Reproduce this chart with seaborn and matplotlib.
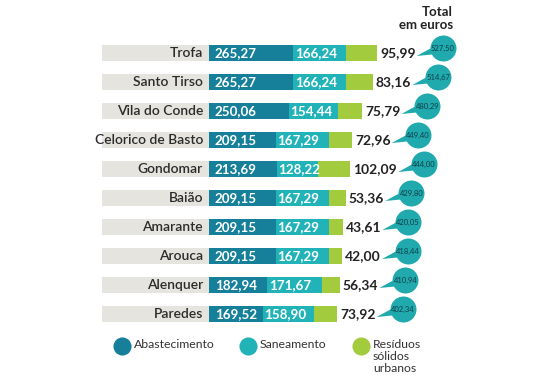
import numpy as np
import pandas as pd
import matplotlib
matplotlib.use("Agg")
import matplotlib.pyplot as plt
import seaborn as sns

# data
municipios = ["Trofa", "Santo Tirso", "Vila do Conde", "Celorico de Basto", "Gondomar",
              "Baião", "Amarante", "Arouca", "Alenquer", "Paredes"]
abastecimento = [265.27, 265.27, 250.06, 209.15, 213.69, 209.15, 209.15, 209.15, 182.94, 169.52]
saneamento = [166.24, 166.24, 154.44, 167.29, 128.22, 167.29, 167.29, 167.29, 171.67, 158.90]
residuos = [95.99, 83.16, 75.79, 72.96, 102.09, 53.36, 43.61, 42.00, 56.34, 73.92]
totais = [527.50, 514.67, 480.29, 449.40, 444.00, 429.80, 420.05, 418.44, 410.94, 402.34]
legenda = ["Abastecimento", "Saneamento", "Resíduos\nsólidos\nurbanos"]

C_ABAST = "#16809a"
C_SAN = "#22b3b9"
C_RES = "#a2cb3e"
C_GRAY = "#e6e4de"
C_BUBBLE = "#20aaad"

sns.set_theme(style="white")
plt.rcParams['font.family'] = ['Lato', 'DejaVu Sans']

df = pd.DataFrame({"municipio": municipios, "abast": abastecimento, "san": saneamento,
                   "res": residuos, "total": totais})
df["abast_san"] = df["abast"] + df["san"]

W, H = 558, 384
fig = plt.figure(figsize=(W / 100, H / 100), dpi=100)
ax = fig.add_axes([0, 0, 1, 1])

# pixel layout: x=0 at px 209, 0.3185 px per euro; rows at 53 + 29*i
X0, SX = 209, 0.3185
Y0, SY = 53, 29

def fmt(v):
    return f"{v:.2f}".replace(".", ",")

# stacked bars: draw cumulative totals back to front
for col, c in [("total", C_RES), ("abast_san", C_SAN), ("abast", C_ABAST)]:
    sns.barplot(data=df, x=col, y="municipio", color=c, orient="h", width=0.55,
                saturation=1, linewidth=0, ax=ax, zorder=2)

gray_left = (102 - X0) / SX
ax.barh(range(len(df)), [-gray_left] * len(df), left=gray_left, height=0.55,
        color=C_GRAY, linewidth=0, zorder=1)

ax.set_xlim((0 - X0) / SX, (W - X0) / SX)
ax.set_ylim((H - Y0) / SY, (0 - Y0) / SY)
ax.axis("off")

lab_x = (203 - X0) / SX
res_labels = []
for i, r in df.iterrows():
    ax.text(lab_x, i, r["municipio"], ha="right", va="center", fontsize=10,
            fontweight="semibold", color="#2b2b2b", zorder=3)
    ax.text(6 / SX, i, fmt(r["abast"]), ha="left", va="center", fontsize=9.6,
            fontweight="bold", color="white", zorder=3)
    ax.text(r["abast"] + 1.5 / SX, i, fmt(r["san"]), ha="left", va="center", fontsize=9.6,
            fontweight="bold", color="white", zorder=3)
    t = ax.text(r["total"] + 3 / SX, i, fmt(r["res"]), ha="left", va="center",
                fontsize=10, fontweight="bold", color="#222222", zorder=3)
    res_labels.append(t)

fig.canvas.draw()
renderer = fig.canvas.get_renderer()
inv = ax.transData.inverted()
for i, (t, tot) in enumerate(zip(res_labels, df["total"])):
    ext = t.get_window_extent(renderer)
    row_disp = ax.transData.transform((0, i))[1]
    tip = (ext.x1 + 1, row_disp - 3)
    ctr = (ext.x1 + 27, row_disp + 5)
    tip_d = inv.transform(tip)
    ctr_d = inv.transform(ctr)
    ax.annotate("", xy=tip_d, xytext=ctr_d,
                arrowprops=dict(arrowstyle="wedge,tail_width=1.0,shrink_factor=0.5",
                                fc=C_BUBBLE, ec="none", shrinkA=0, shrinkB=0),
                fontsize=8, zorder=4)
    ax.scatter([ctr_d[0]], [ctr_d[1]], s=350, color=C_BUBBLE, linewidths=0, zorder=5)
    ax.text(ctr_d[0], ctr_d[1], fmt(tot), ha="center", va="center", fontsize=5.5,
            color="#103f4a", zorder=6)

# header
fig.text(453 / W, 1 - 12 / H, "Total", ha="right", va="center", fontsize=9.5,
         fontweight="bold", color="#222222")
fig.text(453 / W, 1 - 25 / H, "em euros", ha="right", va="center", fontsize=9.5,
         fontweight="bold", color="#222222")

# legend
leg_colors = [C_ABAST, C_SAN, C_RES]
leg_x = [122, 248, 361]
for x, c, lab in zip(leg_x, leg_colors, legenda):
    ax.scatter([(x - X0) / SX], [(346 - Y0) / SY], s=170, color=c, linewidths=0,
               zorder=3, clip_on=False)
    ax.text((x + 12 - X0) / SX, (339 - Y0) / SY, lab, ha="left", va="top", fontsize=8.8,
            color="#333333", linespacing=1.1)

fig.savefig("out.png", dpi=100)
